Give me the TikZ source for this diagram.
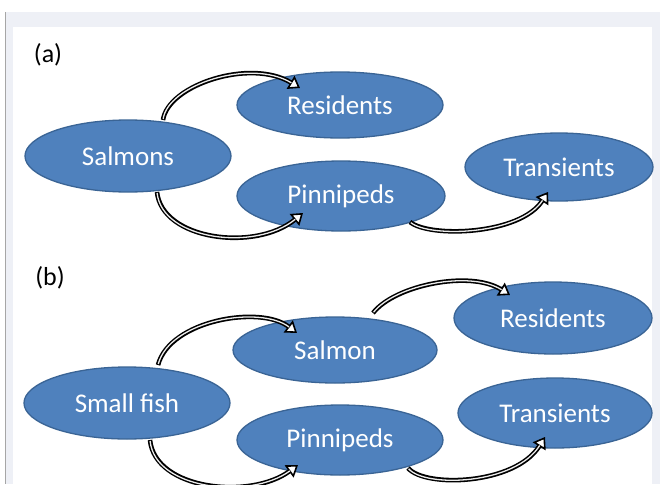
\documentclass[tikz,border=0pt]{standalone}
\usepackage{fontspec}
\setmainfont{Carlito}
\usetikzlibrary{arrows.meta,shapes.geometric}
\definecolor{popblue}{HTML}{4F81BD}
\definecolor{popedge}{HTML}{3A6495}
\definecolor{panel}{HTML}{EEF0F6}

\begin{document}
\begin{tikzpicture}[x=1pt, y=-1pt,
  eco/.style={ellipse, draw=popedge, line width=1.3pt, fill=popblue, inner sep=0pt, text=white, font=\fontsize{27}{30}\selectfont},
  tag/.style={text=black, font=\fontsize{26}{30}\selectfont},
  flow/.style={draw=black, line width=4.6pt, -{Triangle[length=11pt,width=15pt,fill=white,line width=1.6pt]},
    postaction={draw=white!85!gray, line width=1.3pt, -, shorten >=10pt, shorten <=1pt}}]
  \useasboundingbox (0,0) rectangle (660,484);
  % frame
  \fill[panel] (5,12) rectangle (660,484);
  \fill[white] (13,27) rectangle (652,484);
  \draw[gray!70, line width=1pt] (5.5,12) -- (5.5,484);

  % (a)
  \node[tag] (la) at (48,55) {(a)};
  \node[eco, minimum width=206pt, minimum height=72pt] (salA) at (128,156) {Salmons};
  \node[eco, minimum width=206pt, minimum height=66pt] (resA) at (340,105) {Residents};
  \node[eco, minimum width=208pt, minimum height=70pt] (pinA) at (341,196) {Pinnipeds};
  \node[eco, minimum width=188pt, minimum height=68pt] (traA) at (559,167) {Transients};
  \draw[flow] ([shift={(35,-36)}]salA.center) .. controls +(5,-35) and +(-50,-30) .. ([shift={(-40,-17)}]resA.center);
  \draw[flow] ([shift={(29,36)}]salA.center) .. controls +(5,48) and +(-48,39) .. ([shift={(-38,17)}]pinA.center);
  \draw[flow] ([shift={(69,26)}]pinA.center) .. controls +(20,16) and +(-28,43) .. ([shift={(-11,25)}]traA.center);

  % (b)
  \node[tag] (lb) at (50,278) {(b)};
  \node[eco, minimum width=206pt, minimum height=72pt] (fishB) at (127,403) {Small fish};
  \node[eco, minimum width=204pt, minimum height=66pt] (salB) at (335,350) {Salmon};
  \node[eco, minimum width=198pt, minimum height=72pt] (resB) at (553,318) {Residents};
  \node[eco, minimum width=206pt, minimum height=70pt] (pinB) at (340,440) {Pinnipeds};
  \node[eco, minimum width=194pt, minimum height=70pt] (traB) at (555,413) {Transients};
  \draw[flow] ([shift={(31,-38)}]fishB.center) .. controls +(12,-45) and +(-37,-28) .. ([shift={(-38,-17)}]salB.center);
  \draw[flow] ([shift={(38,-37)}]salB.center) .. controls +(22,-28) and +(-40,-25) .. ([shift={(-43,-23)}]resB.center);
  \draw[flow] ([shift={(23,37)}]fishB.center) .. controls +(5,50) and +(-48,35) .. ([shift={(-42,25)}]pinB.center);
  \draw[flow] ([shift={(68,28)}]pinB.center) .. controls +(17,20) and +(-30,48) .. ([shift={(-10,24)}]traB.center);
\end{tikzpicture}
\end{document}
